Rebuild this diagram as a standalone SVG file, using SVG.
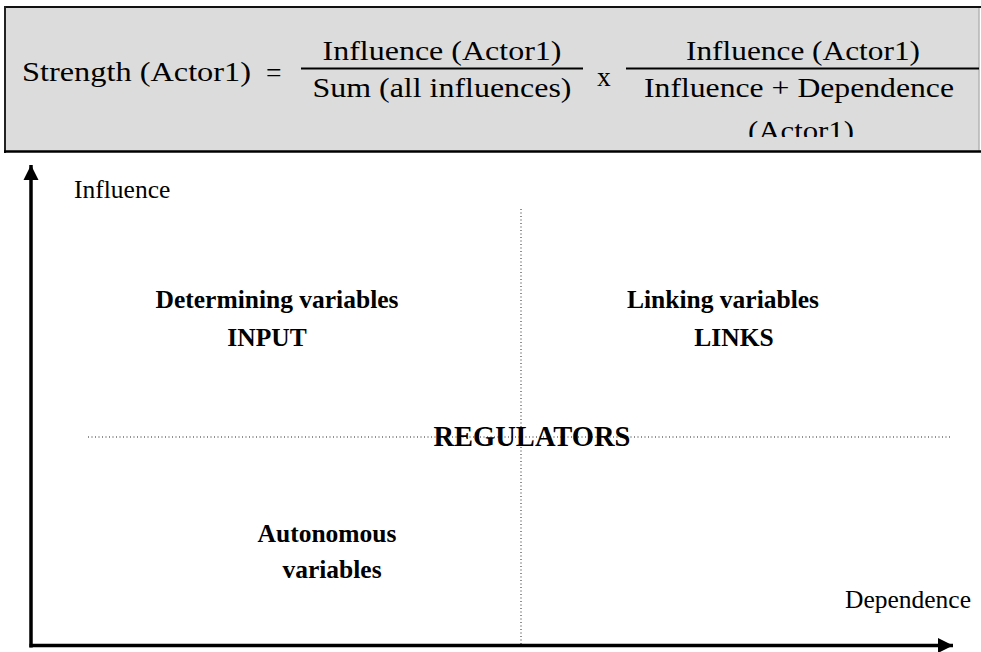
<svg xmlns="http://www.w3.org/2000/svg" width="981" height="652" viewBox="0 0 981 652">
  <style>
    text { fill: #000; }
    .formula { font-size: 27.5px; }
    .label { font-size: 25.5px; }
    .big { font-size: 28.5px; }
    .bold { font-weight: bold; }
    .mid { text-anchor: middle; }
    .axis { stroke: #000; stroke-width: 3.5; fill: none; }
    .grid { stroke: #222; stroke-width: 1; stroke-dasharray: 1 2.5; fill: none; }
    .bar { stroke: #000; stroke-width: 2; }
  </style>
  <defs>
    <marker id="arrow" markerUnits="userSpaceOnUse" markerWidth="16" markerHeight="16" viewBox="0 0 16 16" refX="15" refY="8" orient="auto">
      <path d="M0,0.5 L15,8 L0,15.5 Z" fill="#000"/>
    </marker>
    <clipPath id="boxClip">
      <rect x="5" y="8" width="974" height="129"/>
    </clipPath>
  </defs>

  <rect width="981" height="652" fill="#fff"/>

  <g font-family="Liberation Serif, Times New Roman, serif">
  <!-- formula box -->
  <g id="formula">
    <rect x="5" y="7" width="974" height="144.5" fill="#dcdcdc"/>
    <line x1="979" y1="7" x2="979" y2="151" stroke="#b5b5b5" stroke-width="1.5"/>
    <line x1="5" y1="7" x2="981" y2="7" stroke="#111" stroke-width="2"/>
    <line x1="5" y1="6" x2="5" y2="153" stroke="#222" stroke-width="2"/>
    <line x1="4" y1="151.5" x2="981" y2="151.5" stroke="#000" stroke-width="2.5"/>
    <g clip-path="url(#boxClip)">
      <text class="formula" x="22" y="81" textLength="229" lengthAdjust="spacingAndGlyphs">Strength (Actor1)</text>
      <text class="formula" x="266" y="82">=</text>
      <text class="formula mid" x="442" y="60" textLength="239" lengthAdjust="spacingAndGlyphs">Influence (Actor1)</text>
      <line class="bar" x1="301" y1="68.5" x2="583" y2="68.5"/>
      <text class="formula mid" x="442" y="97" textLength="259" lengthAdjust="spacingAndGlyphs">Sum (all influences)</text>
      <text class="formula" x="597" y="86">x</text>
      <text class="formula mid" x="803" y="60" textLength="234" lengthAdjust="spacingAndGlyphs">Influence (Actor1)</text>
      <line class="bar" x1="626" y1="68.5" x2="979" y2="68.5"/>
      <text class="formula mid" x="799" y="97" textLength="310" lengthAdjust="spacingAndGlyphs">Influence + Dependence</text>
      <text class="formula mid" x="801" y="140" textLength="106" lengthAdjust="spacingAndGlyphs">(Actor1)</text>
    </g>
  </g>

  <!-- axes and quadrant dividers -->
  <g id="connectors">
    <line class="grid" x1="521" y1="209" x2="521" y2="645"/>
    <line class="grid" x1="88" y1="437" x2="950" y2="437"/>
    <line class="axis" x1="31" y1="647.5" x2="31" y2="165" marker-end="url(#arrow)"/>
    <line class="axis" x1="29.5" y1="645.5" x2="953" y2="645.5" marker-end="url(#arrow)"/>
  </g>

  <g id="axis-influence">
    <text class="label" x="74" y="198">Influence</text>
  </g>
  <g id="axis-dependence">
    <text class="label" x="845" y="608">Dependence</text>
  </g>

  <g id="input">
    <text class="label bold mid" x="277" y="308">Determining variables</text>
    <text class="label bold mid" x="267" y="346">INPUT</text>
  </g>
  <g id="links">
    <text class="label bold mid" x="723" y="308">Linking variables</text>
    <text class="label bold mid" x="734" y="346">LINKS</text>
  </g>
  <g id="regulators">
    <text class="big bold mid" x="532" y="446">REGULATORS</text>
  </g>
  <g id="autonomous">
    <text class="label bold mid" x="327" y="542">Autonomous</text>
    <text class="label bold mid" x="332" y="578">variables</text>
  </g>
  </g>
</svg>
